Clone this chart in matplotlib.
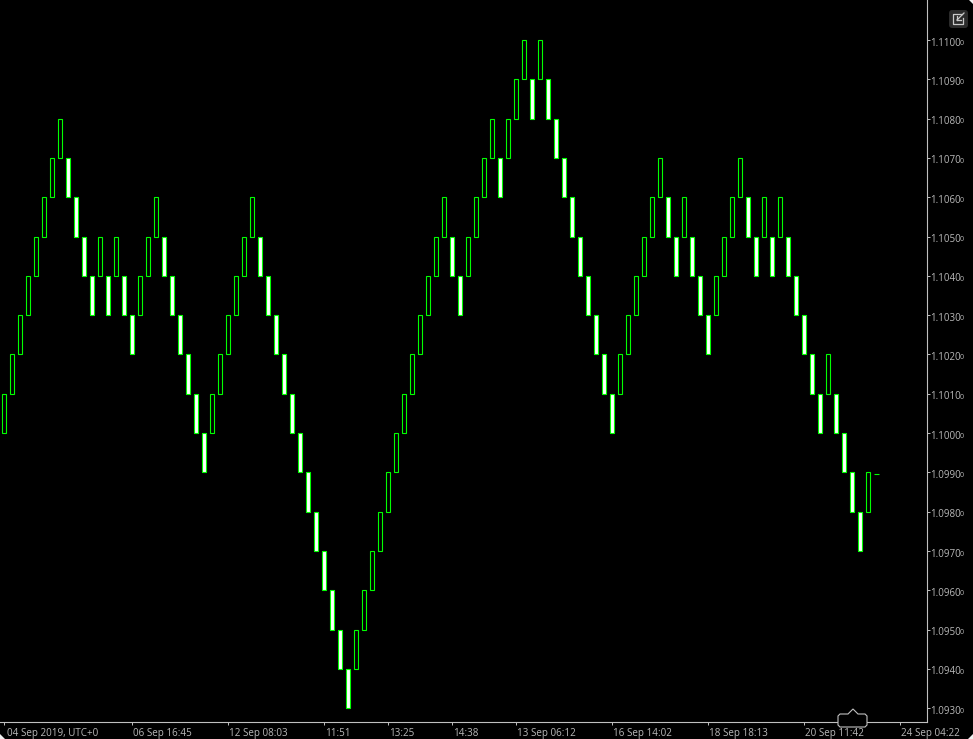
import matplotlib
matplotlib.use("Agg")
import matplotlib.pyplot as plt
from matplotlib.patches import FancyBboxPatch, Polygon
from matplotlib.lines import Line2D
from matplotlib.transforms import ScaledTranslation

W, H = 973, 739
BG = "#000000"
GRID = "#c0c0c0"
TXT = "#b8b8b8"
LIME = "#00ff00"

# renko bricks: lower edge of each brick, +1 = up (hollow), -1 = down (white)
brick_low = [
    1.1000, 1.1010, 1.1020, 1.1030, 1.1040, 1.1050, 1.1060, 1.1070, 1.1060, 1.1050,
    1.1040, 1.1030, 1.1040, 1.1030, 1.1040, 1.1030, 1.1020, 1.1030, 1.1040, 1.1050,
    1.1040, 1.1030, 1.1020, 1.1010, 1.1000, 1.0990, 1.1000, 1.1010, 1.1020, 1.1030,
    1.1040, 1.1050, 1.1040, 1.1030, 1.1020, 1.1010, 1.1000, 1.0990, 1.0980, 1.0970,
    1.0960, 1.0950, 1.0940, 1.0930, 1.0940, 1.0950, 1.0960, 1.0970, 1.0980, 1.0990,
    1.1000, 1.1010, 1.1020, 1.1030, 1.1040, 1.1050, 1.1040, 1.1030, 1.1040, 1.1050,
    1.1060, 1.1070, 1.1060, 1.1070, 1.1080, 1.1090, 1.1080, 1.1090, 1.1080, 1.1070,
    1.1060, 1.1050, 1.1040, 1.1030, 1.1020, 1.1010, 1.1000, 1.1010, 1.1020, 1.1030,
    1.1040, 1.1050, 1.1060, 1.1050, 1.1040, 1.1050, 1.1040, 1.1030, 1.1020, 1.1030,
    1.1040, 1.1050, 1.1060, 1.1050, 1.1040, 1.1050, 1.1040, 1.1050, 1.1040, 1.1030,
    1.1020, 1.1010, 1.1000, 1.1010, 1.1000, 1.0990, 1.0980, 1.0970, 1.0980,
]
brick_dir = [
    1, 1, 1, 1, 1, 1, 1, 1, -1, -1,
    -1, -1, 1, -1, 1, -1, -1, 1, 1, 1,
    -1, -1, -1, -1, -1, -1, 1, 1, 1, 1,
    1, 1, -1, -1, -1, -1, -1, -1, -1, -1,
    -1, -1, -1, -1, 1, 1, 1, 1, 1, 1,
    1, 1, 1, 1, 1, 1, -1, -1, 1, 1,
    1, 1, -1, 1, 1, 1, -1, 1, -1, -1,
    -1, -1, -1, -1, -1, -1, -1, 1, 1, 1,
    1, 1, 1, -1, -1, 1, -1, -1, -1, 1,
    1, 1, 1, -1, -1, 1, -1, 1, -1, -1,
    -1, -1, -1, 1, -1, -1, -1, -1, 1,
]
brick_size = 0.0010
last_price = 1.09896

price_ticks = [1.1100, 1.1090, 1.1080, 1.1070, 1.1060, 1.1050, 1.1040, 1.1030, 1.1020,
               1.1010, 1.1000, 1.0990, 1.0980, 1.0970, 1.0960, 1.0950, 1.0940, 1.0930]
time_ticks = [0, 16, 28, 40, 48, 56, 64, 76, 88, 100, 112]
time_labels = ["04 Sep 2019, UTC+0", "06 Sep 16:45", "12 Sep 08:03", "11:51", "13:25", "14:38",
               "13 Sep 06:12", "16 Sep 14:02", "18 Sep 18:13", "20 Sep 11:42", "24 Sep 04:22"]

plt.rcParams['font.family'] = ['Open Sans', 'DejaVu Sans']

fig = plt.figure(figsize=(W / 100, H / 100), dpi=100, facecolor=BG)
ax = fig.add_axes([0, (H - 722) / H, 927 / W, 722 / H], facecolor=BG)

# 39.3 px per brick, 8 px per bar
ax.set_xlim(-0.55625, 115.31875)
ax.set_ylim(1.092651, 1.111018)

xs = list(range(len(brick_low)))
fills = ["white" if d < 0 else BG for d in brick_dir]
ax.bar(xs, [brick_size] * len(xs), bottom=brick_low, width=0.5, color=fills,
       edgecolor=LIME, linewidth=0.8, zorder=3)

# current price stub right of the last brick
ax.hlines(last_price, len(xs) - 0.35, len(xs) + 0.3, color=LIME, linewidth=0.8, zorder=3)

for s in ["top", "left"]:
    ax.spines[s].set_visible(False)
ax.spines["right"].set_color(GRID)
ax.spines["bottom"].set_color(GRID)
ax.spines["right"].set_linewidth(0.8)
ax.spines["bottom"].set_linewidth(0.8)

ax.yaxis.tick_right()
ax.set_yticks(price_ticks)
ax.set_yticklabels(["%.4f" % p for p in price_ticks])
ax.tick_params(axis="y", length=2.2, width=0.7, color=GRID, labelcolor=TXT, labelsize=7.0, pad=0)
ax.set_xticks(time_ticks)
ax.set_xticklabels(time_labels, ha="left")
ax.tick_params(axis="x", length=2.2, width=0.7, color=GRID, labelcolor=TXT, labelsize=7.1, pad=2)

# nudge labels, they sit a little off the tick in the terminal
for lab in ax.get_yticklabels():
    lab.set_transform(lab.get_transform() + ScaledTranslation(0, -1.5 / 100, fig.dpi_scale_trans))
for i, lab in enumerate(ax.get_xticklabels()):
    dx = 2.5 if i == 0 else 1
    lab.set_transform(lab.get_transform() + ScaledTranslation(dx / 100, 0, fig.dpi_scale_trans))

# small extra digit at the end of every price label
for p in price_ticks:
    ax.annotate("0", xy=(1, p), xycoords=("axes fraction", "data"), xytext=(959.5, -3.4),
                textcoords=("figure pixels", "offset points"), color=TXT, fontsize=5,
                va="baseline", ha="left", annotation_clip=False)


def px(x, y):
    return x / W, 1 - y / H


# scroll tab on the time axis
tab = [(838, 725), (838, 716), (840, 714), (848, 714), (853, 709), (858, 714), (865, 714),
       (867, 716), (867, 725), (865, 727), (840, 727)]
fig.add_artist(Polygon([px(*p) for p in tab], closed=True, facecolor=BG, edgecolor=GRID,
                       linewidth=0.8, transform=fig.transFigure, zorder=5))

# button in the corner
fig.add_artist(FancyBboxPatch((951, H - 26), 15, 14, boxstyle="round,pad=2,rounding_size=3",
                              facecolor="#2b2b2b", edgecolor="none", transform=None, zorder=5))
box_line = [(962, 14), (953, 14), (953, 24), (963, 24), (963, 18)]
fig.add_artist(Line2D([px(*p)[0] for p in box_line], [px(*p)[1] for p in box_line], color="#c8c8c8",
                      linewidth=0.9, transform=fig.transFigure, zorder=6))
for seg in ([(957, 20), (964, 13)], [(957, 20), (957, 16)], [(957, 20), (961, 20)]):
    fig.add_artist(Line2D([px(*p)[0] for p in seg], [px(*p)[1] for p in seg], color="#c8c8c8",
                          linewidth=0.9, transform=fig.transFigure, zorder=6))

# window corners
for tri in ([(969, 0), (973, 0), (973, 4)], [(0, 734), (0, 739), (5, 739)], [(968, 739), (973, 739), (973, 734)]):
    fig.add_artist(Polygon([px(*p) for p in tri], closed=True, facecolor="#f0f0f0", edgecolor="none",
                           transform=fig.transFigure, zorder=7))

fig.savefig("out.png", dpi=100, facecolor=BG)
